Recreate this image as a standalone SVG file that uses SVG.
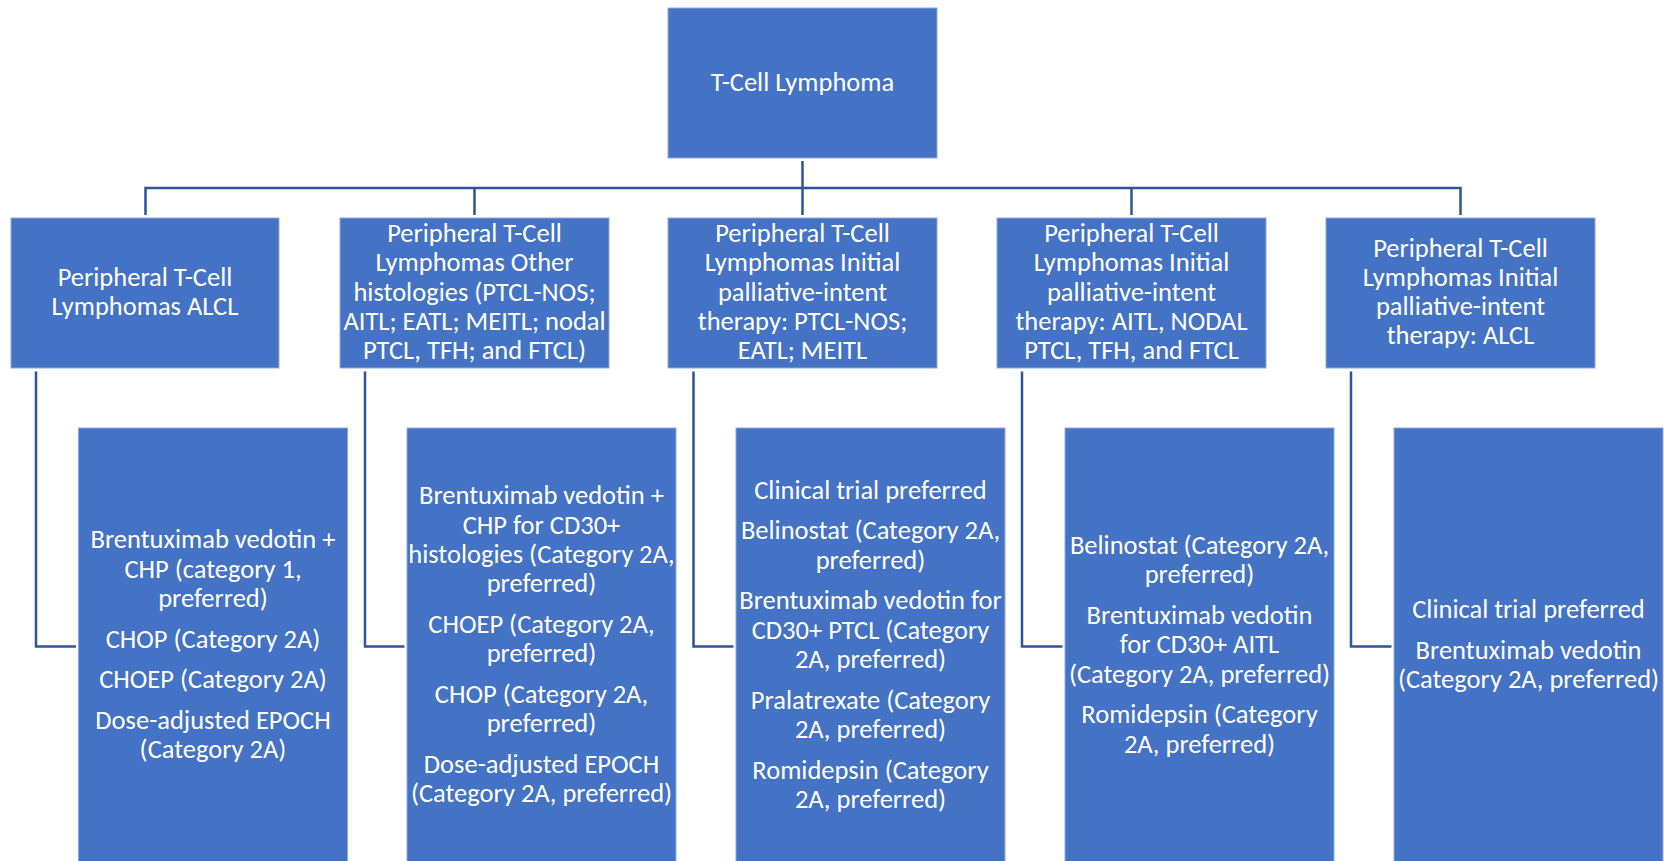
<svg xmlns="http://www.w3.org/2000/svg" width="1667" height="861" viewBox="0 0 1667 861">
<style>
.box{fill:#4472C4;stroke:#8EA9DB;stroke-width:1}
.t{font-family:Calibri,Carlito,"Liberation Sans",Arial,sans-serif;font-size:26.5px;fill:#FFFFFF;text-anchor:middle}
.c{fill:none;stroke:#2F5597;stroke-width:2.5}
</style>
<rect width="1667" height="861" fill="#FFFFFF"/>
<g id="connectors">
<path class="c" d="M802.5 161 V215"/>
<path class="c" d="M145.5 215 V188 H1460.5 V215"/>
<path class="c" d="M474.5 188 V215"/>
<path class="c" d="M1131.5 188 V215"/>
<path class="c" d="M36 371.5 V646.5 H76"/>
<path class="c" d="M365 371.5 V646.5 H404.5"/>
<path class="c" d="M693.5 371.5 V646.5 H733.5"/>
<path class="c" d="M1022 371.5 V646.5 H1062.5"/>
<path class="c" d="M1351 371.5 V646.5 H1391.5"/>
</g>
<g id="root">
<rect class="box" x="668" y="8" width="269" height="150"/>
<text class="t" x="802.5" y="91">T-Cell Lymphoma</text>
</g>
<g id="n-alcl">
<rect class="box" x="11" y="218" width="268" height="150"/>
<text class="t" x="145" y="286">Peripheral T-Cell</text>
<text class="t" x="145" y="315.3">Lymphomas ALCL</text>
</g>
<g id="n-other">
<rect class="box" x="340" y="218" width="269" height="150"/>
<text class="t" x="474.5" y="242">Peripheral T-Cell</text>
<text class="t" x="474.5" y="271.3">Lymphomas Other</text>
<text class="t" x="474.5" y="300.6">histologies (PTCL-NOS;</text>
<text class="t" x="474.5" y="329.9">AITL; EATL; MEITL; nodal</text>
<text class="t" x="474.5" y="359.2">PTCL, TFH; and FTCL)</text>
</g>
<g id="n-pal-ptcl">
<rect class="box" x="668" y="218" width="269" height="150"/>
<text class="t" x="802.5" y="242">Peripheral T-Cell</text>
<text class="t" x="802.5" y="271.3">Lymphomas Initial</text>
<text class="t" x="802.5" y="300.6">palliative-intent</text>
<text class="t" x="802.5" y="329.9">therapy: PTCL-NOS;</text>
<text class="t" x="802.5" y="359.2">EATL; MEITL</text>
</g>
<g id="n-pal-aitl">
<rect class="box" x="997" y="218" width="269" height="150"/>
<text class="t" x="1131.5" y="242">Peripheral T-Cell</text>
<text class="t" x="1131.5" y="271.3">Lymphomas Initial</text>
<text class="t" x="1131.5" y="300.6">palliative-intent</text>
<text class="t" x="1131.5" y="329.9">therapy: AITL, NODAL</text>
<text class="t" x="1131.5" y="359.2">PTCL, TFH, and FTCL</text>
</g>
<g id="n-pal-alcl">
<rect class="box" x="1326" y="218" width="269" height="150"/>
<text class="t" x="1460.5" y="256.5">Peripheral T-Cell</text>
<text class="t" x="1460.5" y="285.8">Lymphomas Initial</text>
<text class="t" x="1460.5" y="315.1">palliative-intent</text>
<text class="t" x="1460.5" y="344.4">therapy: ALCL</text>
</g>
<g id="t-alcl">
<rect class="box" x="78.5" y="428" width="269" height="445"/>
<text class="t" x="213" y="548.3">Brentuximab vedotin +</text>
<text class="t" x="213" y="577.6">CHP (category 1,</text>
<text class="t" x="213" y="606.9">preferred)</text>
<text class="t" x="213" y="647.6">CHOP (Category 2A)</text>
<text class="t" x="213" y="688.3">CHOEP (Category 2A)</text>
<text class="t" x="213" y="729">Dose-adjusted EPOCH</text>
<text class="t" x="213" y="758.3">(Category 2A)</text>
</g>
<g id="t-other">
<rect class="box" x="407" y="428" width="269" height="445"/>
<text class="t" x="541.5" y="504.4">Brentuximab vedotin +</text>
<text class="t" x="541.5" y="533.7">CHP for CD30+</text>
<text class="t" x="541.5" y="563">histologies (Category 2A,</text>
<text class="t" x="541.5" y="592.3">preferred)</text>
<text class="t" x="541.5" y="633">CHOEP (Category 2A,</text>
<text class="t" x="541.5" y="662.3">preferred)</text>
<text class="t" x="541.5" y="703">CHOP (Category 2A,</text>
<text class="t" x="541.5" y="732.3">preferred)</text>
<text class="t" x="541.5" y="773">Dose-adjusted EPOCH</text>
<text class="t" x="541.5" y="802.3">(Category 2A, preferred)</text>
</g>
<g id="t-pal-ptcl">
<rect class="box" x="736" y="428" width="269" height="445"/>
<text class="t" x="870.5" y="498.7">Clinical trial preferred</text>
<text class="t" x="870.5" y="539.4">Belinostat (Category 2A,</text>
<text class="t" x="870.5" y="568.7">preferred)</text>
<text class="t" x="870.5" y="609.4">Brentuximab vedotin for</text>
<text class="t" x="870.5" y="638.7">CD30+ PTCL (Category</text>
<text class="t" x="870.5" y="668">2A, preferred)</text>
<text class="t" x="870.5" y="708.7">Pralatrexate (Category</text>
<text class="t" x="870.5" y="738">2A, preferred)</text>
<text class="t" x="870.5" y="778.7">Romidepsin (Category</text>
<text class="t" x="870.5" y="808">2A, preferred)</text>
</g>
<g id="t-pal-aitl">
<rect class="box" x="1065" y="428" width="269" height="445"/>
<text class="t" x="1199.5" y="554">Belinostat (Category 2A,</text>
<text class="t" x="1199.5" y="583.3">preferred)</text>
<text class="t" x="1199.5" y="624">Brentuximab vedotin</text>
<text class="t" x="1199.5" y="653.3">for CD30+ AITL</text>
<text class="t" x="1199.5" y="682.6">(Category 2A, preferred)</text>
<text class="t" x="1199.5" y="723.3">Romidepsin (Category</text>
<text class="t" x="1199.5" y="752.6">2A, preferred)</text>
</g>
<g id="t-pal-alcl">
<rect class="box" x="1394" y="428" width="269" height="445"/>
<text class="t" x="1528.5" y="618.3">Clinical trial preferred</text>
<text class="t" x="1528.5" y="659">Brentuximab vedotin</text>
<text class="t" x="1528.5" y="688.3">(Category 2A, preferred)</text>
</g>
</svg>
